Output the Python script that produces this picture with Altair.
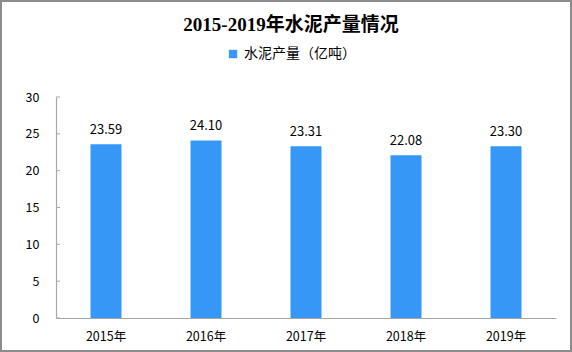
import altair as alt
import pandas as pd

years = ["2015年", "2016年", "2017年", "2018年", "2019年"]
values = [23.59, 24.10, 23.31, 22.08, 23.30]
series_name = "水泥产量（亿吨）"
chart_title = "2015-2019年水泥产量情况"
y_ticks = [0, 5, 10, 15, 20, 25, 30]

df = pd.DataFrame({"year": years, "value": values, "series": [series_name] * len(years)})
ticks_df = pd.DataFrame({"t": y_ticks})
title_df = pd.DataFrame({"title": [chart_title]})

LABEL_FONT = "Noto Sans CJK SC"
BLUE = "#3797f7"

x_axis = alt.Axis(labelAngle=0, ticks=False, labelPadding=12,
                  labelFontSize=12.5, labelFont=LABEL_FONT, labelColor="#000",
                  domainColor="#a6a6a6", domainWidth=1.2)
x_scale = alt.Scale(paddingInner=0.69, paddingOuter=0.345)
y_axis = alt.Axis(values=y_ticks, ticks=False, grid=False, labelPadding=17,
                  labelOverlap=False, labelFlush=False,
                  labelFontSize=12.5, labelFont=LABEL_FONT, labelColor="#000",
                  domainColor="#a6a6a6", domainWidth=1.2)
y_scale = alt.Scale(domain=[0, 30], nice=False)

bars = alt.Chart(df).mark_bar(color=BLUE).encode(
    x=alt.X("year:N", sort=years, title=None, scale=x_scale, axis=x_axis),
    y=alt.Y("value:Q", scale=y_scale, title=None, axis=y_axis),
    color=alt.Color("series:N", scale=alt.Scale(range=[BLUE]), title=None,
                    legend=alt.Legend(orient="none", legendX=170, legendY=-50,
                                      symbolType="square", symbolSize=70,
                                      symbolStrokeWidth=0, labelFontSize=14,
                                      labelFont=LABEL_FONT, labelColor="#000",
                                      symbolOffset=0)),
)

labels = alt.Chart(df).mark_text(dy=-14, fontSize=13, font=LABEL_FONT, color="#000").encode(
    x=alt.X("year:N", sort=years, title=None, scale=x_scale, axis=x_axis),
    y=alt.Y("value:Q", scale=y_scale, title=None, axis=y_axis),
    text=alt.Text("value:Q", format=".2f"),
)

tick_marks = alt.Chart(ticks_df).mark_rule(color="#a6a6a6", strokeWidth=1).encode(
    x=alt.value(0), x2=alt.value(4),
    y=alt.Y("t:Q", scale=y_scale, title=None, axis=y_axis),
)

frame = alt.Chart(title_df).mark_rect(fill=None, stroke="#8c8c8c", strokeWidth=2).encode(
    x=alt.value(-55), x2=alt.value(515),
    y=alt.value(-96), y2=alt.value(254),
)

title_mark = alt.Chart(title_df).mark_text(
    font="Liberation Serif, Noto Sans CJK SC", fontSize=19, fontWeight="bold",
    color="#000", align="center", baseline="middle",
).encode(text="title:N", x=alt.value(235), y=alt.value(-72))

chart = alt.layer(frame, bars, tick_marks, labels, title_mark).properties(
    width=500, height=221,
    padding={"left": 56, "top": 97, "right": 16, "bottom": 34},
    autosize=alt.AutoSizeParams(type="none"),
).configure_view(strokeWidth=0, stroke="transparent")

chart.save("out.html", embed_options={"renderer": "svg", "actions": False})
